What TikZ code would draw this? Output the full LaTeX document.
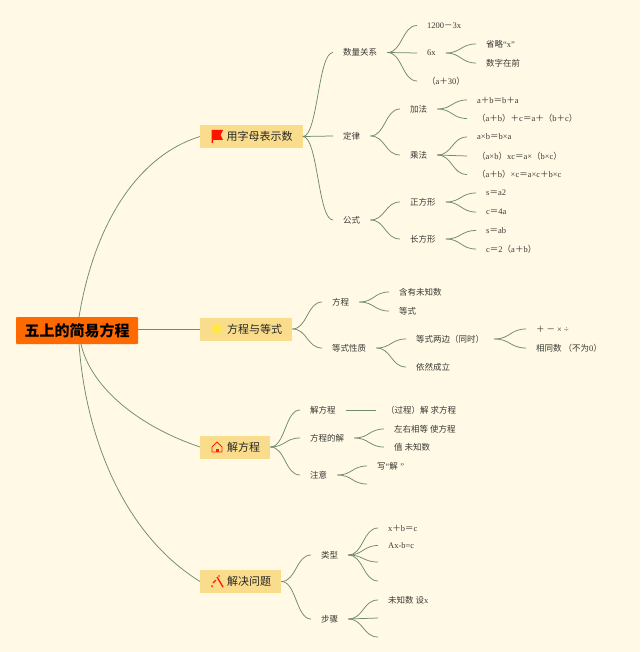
\documentclass[tikz,border=0pt]{standalone}
\usepackage{fontspec}
\usetikzlibrary{calc}
\setmainfont{Liberation Serif}
\newfontfamily\cjk{Noto Sans CJK SC}
\newcommand{\C}[1]{{\cjk #1}}
\definecolor{bgc}{HTML}{FFF9E6}
\definecolor{rootc}{HTML}{FF6A00}
\definecolor{branchc}{HTML}{FADD8C}
\definecolor{linkc}{HTML}{6F8C68}
\definecolor{txtc}{HTML}{3A3A34}
\definecolor{starc}{HTML}{FFE83C}
\tikzset{
  rootbox/.style={fill=rootc,rounded corners=0.8pt,minimum width=122pt,minimum height=27pt,inner sep=0pt,font=\cjk\fontsize{15}{15}\selectfont\bfseries,text=black},
  branchbox/.style={fill=branchc,minimum height=23pt,inner sep=0pt,anchor=west,font=\cjk\fontsize{11}{11}\selectfont,text=black!85},
  leaf/.style={anchor=west,inner xsep=10pt,inner ysep=0pt,minimum height=10pt,font=\fontsize{8.5}{8.5}\selectfont,text=txtc},
  link/.style={draw=linkc,line width=0.75pt},
}
\newcommand{\lk}[2]{\draw[link] let \p1=(#1),\p2=(#2) in (\p1) .. controls ({0.5*\x1+0.5*\x2},\y1) and ({0.5*\x1+0.5*\x2},\y2) .. (\p2);}
\begin{document}
\begin{tikzpicture}[x=1pt,y=-1pt]
\useasboundingbox (0,0) rectangle (640,652);
\fill[bgc] (0,0) rectangle (640,652);

% root and branches
\node[rootbox] (root) at (77,330.5) {五上的简易方程};
\node[branchbox,minimum width=102.5pt] (b1) at (200,136.5) {\hspace*{26.5pt}用字母表示数\hspace*{10pt}};
\node[branchbox,minimum width=92pt] (b2) at (200,329) {\hspace*{27pt}方程与等式\hspace*{10pt}};
\node[branchbox,minimum width=70pt] (b3) at (200,447) {\hspace*{27pt}解方程\hspace*{10pt}};
\node[branchbox,minimum width=81pt] (b4) at (200,581.5) {\hspace*{27pt}解决问题\hspace*{10pt}};

% icons
\fill[red!85!orange] (211.5,130) -- (223,130) -- (220.5,135) -- (223,140) -- (213,140) -- (213,143) -- (211.5,143) -- cycle;
\fill[starc] (217,322) -- (218.9,326.2) -- (223.5,326.7) -- (220.1,329.8) -- (221,334.4) -- (217,332.1) -- (213,334.4) -- (213.9,329.8) -- (210.5,326.7) -- (215.1,326.2) -- cycle;
\draw[red!75!orange,line width=0.9pt,line join=round] (212,447) -- (217,442) -- (222,447) -- (222,452) -- (212,452) -- cycle;
\fill[red!75!orange] (215.5,448.5) rectangle (218.5,452);
\draw[red!80!orange,line width=1.3pt] (217,577) -- (223,587);
\draw[red!80!orange,line width=1.1pt] (213,583) -- (216,580);
\fill[red!80!orange] (212,586) circle (1pt) (219,576) circle (0.8pt);

% root links
\coordinate (rtop) at (79,317);
\coordinate (rb3) at (81,344);
\coordinate (rb4) at (79,344);
\draw[link] (rtop) .. controls (95,220) and (140,155) .. (b1.west);
\draw[link] (root.east |- b2.west) -- (b2.west);
\draw[link] (rb3) .. controls (90,385) and (135,425) .. (b3.west);
\draw[link] (rb4) .. controls (86,440) and (125,535) .. (b4.west);

% branch 1
\node[leaf] (shuliang) at (333,52.5) {\C{数量关系}};
\node[leaf] (dinglv) at (333,136) {\C{定律}};
\node[leaf] (gongshi) at (333,220) {\C{公式}};
\node[leaf] (a1) at (417,25.5) {1200\C{－}3x};
\node[leaf] (a2) at (417,53) {6x};
\node[leaf] (a3) at (417,81) {\C{（}a\C{＋}30\C{）}};
\node[leaf] (a21) at (476,44) {\C{省略}“x”};
\node[leaf] (a22) at (476,63) {\C{数字在前}};
\node[leaf] (jia) at (400,109) {\C{加法}};
\node[leaf] (cheng) at (400,155) {\C{乘法}};
\node[leaf] (j1) at (467,100) {a\C{＋}b\C{＝}b\C{＋}a};
\node[leaf] (j2) at (467,118.5) {\C{（}a\C{＋}b\C{）＋}c\C{＝}a\C{＋（}b\C{＋}c\C{）}};
\node[leaf] (c1) at (467,137) {a×b\C{＝}b×a};
\node[leaf] (c2) at (467,156) {\C{（}a×b\C{）}xc\C{＝}a×\C{（}b×c\C{）}};
\node[leaf] (c3) at (467,174.5) {\C{（}a\C{＋}b\C{）}×c\C{＝}a×c\C{＋}b×c};
\node[leaf] (zheng) at (400,202) {\C{正方形}};
\node[leaf] (chang) at (400,239) {\C{长方形}};
\node[leaf] (z1) at (476,193) {s\C{＝}a2};
\node[leaf] (z2) at (476,212) {c\C{＝}4a};
\node[leaf] (h1) at (476,230.5) {s\C{＝}ab};
\node[leaf] (h2) at (476,249) {c\C{＝}2\C{（}a\C{＋}b\C{）}};
\lk{b1.east}{shuliang.west}
\lk{b1.east}{dinglv.west}
\lk{b1.east}{gongshi.west}
\lk{shuliang.east}{a1.west}
\lk{shuliang.east}{a2.west}
\lk{shuliang.east}{a3.west}
\lk{a2.east}{a21.west}
\lk{a2.east}{a22.west}
\lk{dinglv.east}{jia.west}
\lk{dinglv.east}{cheng.west}
\lk{jia.east}{j1.west}
\lk{jia.east}{j2.west}
\lk{cheng.east}{c1.west}
\lk{cheng.east}{c2.west}
\lk{cheng.east}{c3.west}
\lk{gongshi.east}{zheng.west}
\lk{gongshi.east}{chang.west}
\lk{zheng.east}{z1.west}
\lk{zheng.east}{z2.west}
\lk{chang.east}{h1.west}
\lk{chang.east}{h2.west}

% branch 2
\node[leaf] (fc) at (322,302) {\C{方程}};
\node[leaf] (dx) at (322,348) {\C{等式性质}};
\node[leaf] (f1) at (389,292) {\C{含有未知数}};
\node[leaf] (f2) at (389,311) {\C{等式}};
\node[leaf] (d1) at (406,339) {\C{等式两边（同时）}};
\node[leaf] (d2) at (406,367) {\C{依然成立}};
\node[leaf] (e1) at (526,329) {\C{＋ －} × ÷};
\node[leaf] (e2) at (526,348) {\C{相同数 （不为}0\C{）}};
\lk{b2.east}{fc.west}
\lk{b2.east}{dx.west}
\lk{fc.east}{f1.west}
\lk{fc.east}{f2.west}
\lk{dx.east}{d1.west}
\lk{dx.east}{d2.west}
\lk{d1.east}{e1.west}
\lk{d1.east}{e2.west}

% branch 3
\node[leaf] (jf) at (300,410) {\C{解方程}};
\node[leaf] (fj) at (300,438) {\C{方程的解}};
\node[leaf] (zy) at (300,475) {\C{注意}};
\node[leaf] (g1) at (376,410) {\C{（过程）解 求方程}};
\node[leaf] (g2) at (384,429) {\C{左右相等 使方程}};
\node[leaf] (g3) at (384,447) {\C{值 未知数}};
\node[leaf] (g4) at (367,466) {\C{写}“\C{解}\hspace{2.5pt}”};
\coordinate (g5) at (367,484);
\lk{b3.east}{jf.west}
\lk{b3.east}{fj.west}
\lk{b3.east}{zy.west}
\lk{jf.east}{g1.west}
\lk{fj.east}{g2.west}
\lk{fj.east}{g3.west}
\lk{zy.east}{g4.west}
\lk{zy.east}{g5}

% branch 4
\node[leaf] (lx) at (311,555) {\C{类型}};
\node[leaf] (bz) at (311,619) {\C{步骤}};
\node[leaf] (k1) at (378,528) {x\C{＋}b\C{＝}c};
\node[leaf] (k2) at (378,545.5) {Ax-b=c};
\coordinate (k3) at (378,562);
\coordinate (k4) at (378,581);
\node[leaf] (m1) at (378,600) {\C{未知数 设}x};
\coordinate (m2) at (378,618);
\coordinate (m3) at (378,637);
\lk{b4.east}{lx.west}
\lk{b4.east}{bz.west}
\lk{lx.east}{k1.west}
\lk{lx.east}{k2.west}
\lk{lx.east}{k3}
\lk{lx.east}{k4}
\lk{bz.east}{m1.west}
\lk{bz.east}{m2}
\lk{bz.east}{m3}
\end{tikzpicture}
\end{document}
